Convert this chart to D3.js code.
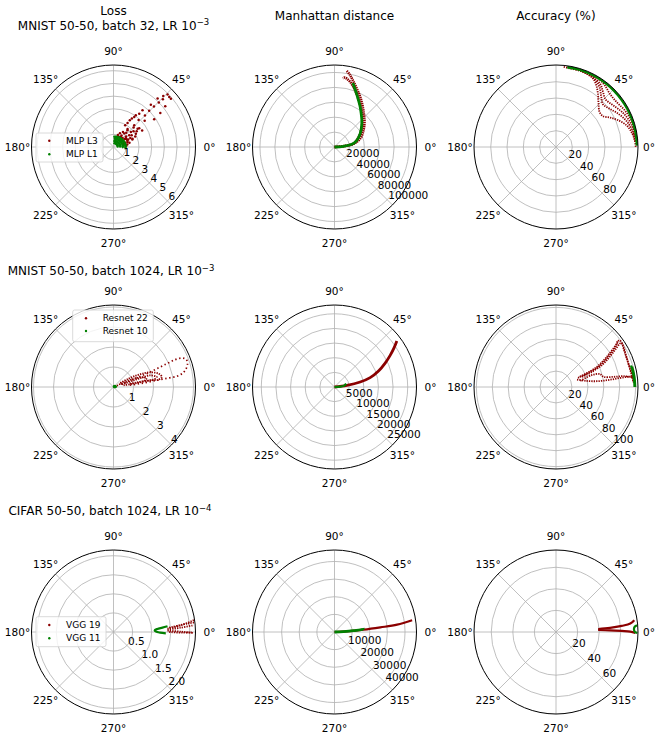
<!DOCTYPE html>
<html>
<head>
<meta charset="utf-8">
<script src="https://cdn.jsdelivr.net/npm/d3@7"></script>
<style>
  body { margin: 0; background: #fff; }
  svg text { font-family: "DejaVu Sans", sans-serif; fill: #000; }
</style>
</head>
<body>
<svg id="chart" width="656" height="737"></svg>
<script>
// ---- Angular / radial ticks ---------------------------------------------
const angleTicks = [0, 45, 90, 135, 180, 225, 270, 315];

const lossTicksB32 = [1, 2, 3, 4, 5, 6];
const distTicksB32 = [20000, 40000, 60000, 80000, 100000];
const accTicksB32 = [20, 40, 60, 80];
const lossTicksB1024 = [1, 2, 3, 4];
const distTicksB1024 = [5000, 10000, 15000, 20000, 25000];
const accTicksB1024 = [20, 40, 60, 80, 100];
const lossTicksCifar = [0.5, 1.0, 1.5, 2.0];
const distTicksCifar = [10000, 20000, 30000, 40000];
const accTicksCifar = [20, 40, 60];

// ---- Trajectories: each series is a list of runs of [angle in degrees, value]
// MNIST 50-50, batch 32, LR 1e-3
const b32LossL3 = [[
  [44.1,5.92],[41.9,5.89],[40.1,5.90],[45.7,5.60],[47.7,5.15],[38.2,5.18],[36.0,4.55],[34.2,3.87],
  [48.6,4.44],[51.7,3.68],[52.3,3.31],[54.9,3.05],[55.4,2.87],[57.1,2.66],[58.6,2.46],[59.7,2.19],
  [61.7,1.94],[46.3,2.36],[37.3,2.38],[40.9,1.81],[30.8,2.05],[50.0,1.71],[51.2,1.35],[53.9,0.98],
  [49.6,0.69],[42.7,0.96],[39.1,1.25],[36.7,1.54],[23.6,1.63],[19.7,1.17],[19.0,0.81],[45.0,3.50],
  [45.5,4.00],[45.0,4.50],[44.5,5.00],[44.0,5.40],[30,0.90],[35,1.10],[25,1.20],[40,1.30],[45,1.00],
  [55,1.10],[60,0.90],[20,1.00],[28,1.50],[33,1.70],[48,1.50],[15,1.30],[38,2.00],[44,2.20],[52,1.80],
  [65,1.20],[70,1.00],[42,0.80],[22,1.60],[18,0.90],[10,1.10],[36,2.50],[30,2.60],[47,2.90],[40,3.20],
  [34,2.20],[26,1.90],[12,0.80],[5,1.00],[27,1.30],[58,1.40],[32,1.20]
]];
const b32LossL1 = [
  [[-4,0.93],[6,0.95],[16,0.94],[26,0.92],[36,0.90],[46,0.88],[56,0.86],[66,0.84],[76,0.82],[86,0.80]],
  [[-2,0.72],[10,0.74],[22,0.73],[34,0.71],[46,0.70],[58,0.68],[70,0.66],[82,0.64]],
  [[2,0.52],[16,0.54],[30,0.53],[44,0.51],[58,0.50],[72,0.48],[84,0.47]],
  [[5,0.33],[25,0.34],[45,0.33],[65,0.32],[80,0.30]]
];
const b32DistL3 = [
  [[0,0],[5.4,14360],[11.0,28250],[19.5,37480],[29.9,44870],[39.8,52400],[48.7,59570],[56.1,67350],
   [62.8,75400],[69.1,83800],[74.6,92750],[78.3,99550],[80.8,103300]],
  [[0,0],[10.0,25880],[25.0,37020],[40.1,48560],[52.3,59300],[62.5,70610],[70.5,81610],[76.4,89710],
   [79.8,93150],[81.8,94000],[83.1,92800]]
];
const b32DistL1 = [
  [[0,0],[4.2,12100],[8.7,23520],[16.6,31260],[27.5,38800],[36.5,45080],[44.3,51250],[51.3,57280],
   [57.3,63770],[62.8,70390],[67.6,77410],[71.4,83990],[74.0,89300]]
];
const b32AccL3 = [
  [[84.5,98.6],[80.3,97.9],[70.4,98.0],[61.8,95.5],[57.0,90.5],[52.0,83.4],[45.7,74.6],[38.9,68.6],
   [33.3,68.8],[28.8,75.0],[23.4,82.8],[17.2,90.3],[11.3,94.2],[4.9,96.8],[0,97.7]],
  [[79.2,98.7],[66.5,97.6],[59.5,95.3],[53.9,90.5],[48.0,82.9],[42.4,77.9],[35.5,80.7],[28.4,86.3],
   [20.4,92.0],[11.9,95.7],[3.6,97.5]],
  [[75.6,98.8],[62.4,97.3],[54.9,94.3],[49.7,88.9],[43.8,84.2],[36.3,86.6],[27.0,92.2],[16.8,96.5],[7.2,97.7]],
  [[70.7,99.2],[58.6,98.6],[51.9,96.5],[45.0,92.9],[36.9,92.4],[28.2,95.5],[19.6,98.0],[9.6,98.7]]
];
const b32AccL1 = [
  [[82,99.0],[75,99.1],[68,99.1],[60,99.2],[52,99.2],[44,99.2],[36,99.2],[28,99.3],[20,99.3],[12,99.3],[6,99.3],[1,99.3]]
];

// MNIST 50-50, batch 1024, LR 1e-3
const b1024LossR22 = [
  [[21.8,0.18],[20.6,0.71],[21.8,1.26],[21.8,1.80],[22.9,2.35],[23.6,2.91],[23.9,3.37],[23.0,3.71],
   [20.8,3.89],[17.5,3.88],[14.2,3.75],[11.4,3.54],[9.6,3.21],[9.3,2.79],[8.9,2.36],[8.4,1.94],
   [7.6,1.51],[7.0,1.09],[5.7,0.67]],
  [[31,0.39],[29.1,0.86],[26.6,1.30],[23.9,1.73],[20.9,2.05],[16.5,2.35],[11.7,2.47],[9.3,2.28],
   [10.3,1.86],[10.0,1.44],[9.5,1.01],[9.5,0.51]],
  [[17.7,0.44],[18.1,0.96],[18.2,1.49],[17.7,1.92],[13.0,2.22],[10.4,2.03],[11.3,1.53]],
  [[25,0.30],[24,0.70],[22,1.10],[19,1.50],[15,1.70],[12,1.60],[11,1.20],[12,0.80]]
];
const b1024LossR10 = [
  [[10,0.05],[25,0.07],[5,0.08],[40,0.06],[15,0.10]]
];
const b1024DistR22 = [
  [[0,0],[7.7,4250],[11.0,8930],[14.7,12590],[20.0,15990],[25.3,19140],[29.6,21860],[33.4,24400],[36.4,26450]]
];
const b1024DistR10 = [
  [[0,0],[3.4,1940],[7.9,3330],[15.9,4140]]
];
const b1024AccR22 = [
  [[22.6,30.0],[24.0,41.9],[25.6,54.3],[29.1,68.2],[32.5,80.8],[35.1,92.6],[36.4,99.0],[31.6,99.0],
   [24.8,96.5],[16.8,95.6],[8.8,96.9],[2.5,98.0]],
  [[23.2,32.4],[24.2,46.7],[24.8,60.9],[28.7,75.2],[32.2,88.0],[34.1,98.7],[27.5,96.9],[19.5,95.7],
   [10.2,96.0],[3.8,97.2]],
  [[19.5,28.0],[11.3,39.1],[8.1,51.6],[7.6,64.4],[7.9,77.3],[8.1,90.3],[7.9,98.8]],
  [[14.0,31.6],[18.4,47.1],[16.3,57.6],[12.1,60.9],[10.0,73.5],[9.1,86.2],[6.9,98.6]],
  [[21,35],[23,50],[27,65],[31,79],[34,90],[37,97]]
];
const b1024AccR10 = [
  [[0,98.6],[4,98.5],[8,98.3],[12,98.2],[16,98.0]],
  [[0,99.5],[5,99.4],[10,99.2],[15,99.0]]
];

// CIFAR 50-50, batch 1024, LR 1e-4
const cifarLossV19 = [
  [[3.6,1.418],[5.7,1.778],[8.4,2.129]],
  [[2.5,1.417],[3.7,1.773],[4.8,2.113]],
  [[1.4,1.416],[0.3,1.770],[-0.7,2.080]],
  [[4.5,1.464],[6.5,1.959],[6.7,2.138]],
  [[0,1.460],[-0.6,1.814],[-0.2,2.053]]
];
const cifarLossV11 = [
  [[6.1,1.424],[5.1,1.288],[4.0,1.153],[2.3,1.080],[0.5,1.115],[-0.8,1.221],[-1.5,1.372]]
];
const cifarDistV19 = [
  [[0,0],[3.1,7040],[4.6,16570],[5.8,26140],[6.7,35740],[8.6,44530]]
];
const cifarDistV11 = [
  [[0,0],[2.1,5130],[4.0,10840],[6.0,16230],[8.0,16400]]
];
const cifarAccV19 = [
  [[4.1,39.2],[4.3,50.2],[5.3,61.2],[6.5,69.3],[8.6,73.4]],
  [[2.7,39.1],[1.8,50.1],[0.9,61.0],[0.3,68.8],[-0.7,73.5]]
];
const cifarAccV11 = [
  [[4.8,75.3],[3.7,73.0],[1.7,72.3],[0,73.2],[-0.7,75.4]]
];

// ---- Layout and styles ---------------------------------------------------
const RED = "#8b0000", GREEN = "#008000";
const colX = [113.5, 334.5, 556];
const rowY = [147, 387, 632];
const R = 82;

const trailStyles = {
  scatter: { width: 0,   dash: null,      dot: 1.25 },
  blob:    { width: 2.6, dash: null,      dot: 1.1 },
  solid:   { width: 2.8, dash: null,      dot: 0 },
  thin:    { width: 2.2, dash: null,      dot: 0 },
  hatched: { width: 2.6, dash: "1.4,0.7", dot: 0 },
  dotted:  { width: 1.8, dash: "1.3,1.1", dot: 0 },
  sparse:  { width: 1.7, dash: "1.4,2.6", dot: 0 },
  speck:   { width: 0,   dash: null,      dot: 1.5 }
};

const fmtInt = d3.format("d");
const fmtOne = d3.format(".1f");

const panels = [
  { row: 0, col: 0, rmax: 6.45, ticks: lossTicksB32, fmt: fmtInt,
    series: [{ data: b32LossL3, color: RED, style: ["scatter"] },
             { data: b32LossL1, color: GREEN, style: ["blob"] }],
    legend: { x: 36, y: 133, w: 67, h: 29, mx: 49.3, tx: 66, rows: [["MLP L3", RED, 140.7], ["MLP L1", GREEN, 154.3]] } },
  { row: 0, col: 1, rmax: 110000, ticks: distTicksB32, fmt: fmtInt,
    series: [{ data: b32DistL3, color: RED, style: ["hatched"] },
             { data: b32DistL1, color: GREEN, style: ["solid"] }] },
  { row: 0, col: 2, rmax: 100.5, ticks: accTicksB32, fmt: fmtInt,
    series: [{ data: b32AccL3, color: RED, style: ["dotted"] },
             { data: b32AccL1, color: GREEN, style: ["solid"] }] },
  { row: 1, col: 0, rmax: 4.1, ticks: lossTicksB1024, fmt: fmtInt,
    series: [{ data: b1024LossR22, color: RED, style: ["sparse", "dotted", "dotted", "dotted"] },
             { data: b1024LossR10, color: GREEN, style: ["speck"] }],
    legend: { x: 72.7, y: 310, w: 80.6, h: 31.7, mx: 86, tx: 102.7, rows: [["Resnet 22", RED, 318.3], ["Resnet 10", GREEN, 331]] } },
  { row: 1, col: 1, rmax: 28000, ticks: distTicksB1024, fmt: fmtInt,
    series: [{ data: b1024DistR22, color: RED, style: ["solid"] },
             { data: b1024DistR10, color: GREEN, style: ["thin"] }] },
  { row: 1, col: 2, rmax: 103, ticks: accTicksB1024, fmt: fmtInt,
    series: [{ data: b1024AccR22, color: RED, style: ["dotted"] },
             { data: b1024AccR10, color: GREEN, style: ["thin"] }] },
  { row: 2, col: 0, rmax: 2.15, ticks: lossTicksCifar, fmt: fmtOne,
    series: [{ data: cifarLossV19, color: RED, style: ["dotted"] },
             { data: cifarLossV11, color: GREEN, style: ["thin"] }],
    legend: { x: 36, y: 616.7, w: 70, h: 30, mx: 49.3, tx: 66, rows: [["VGG 19", RED, 625], ["VGG 11", GREEN, 638.3]] } },
  { row: 2, col: 1, rmax: 46500, ticks: distTicksCifar, fmt: fmtInt,
    series: [{ data: cifarDistV19, color: RED, style: ["thin"] },
             { data: cifarDistV11, color: GREEN, style: ["solid"] }] },
  { row: 2, col: 2, rmax: 76, ticks: accTicksCifar, fmt: fmtInt,
    series: [{ data: cifarAccV19, color: RED, style: ["thin"] },
             { data: cifarAccV11, color: GREEN, style: ["thin"] }] }
];

// ---- Drawing -------------------------------------------------------------
const svg = d3.select("#chart");
const rad = d => d * Math.PI / 180;
const W = +svg.attr("width");

panels.forEach((p, i) => {
  const cx = colX[p.col], cy = rowY[p.row];
  const g = svg.append("g").attr("transform", `translate(${cx},${cy})`);
  const r = d3.scaleLinear().domain([0, p.rmax]).range([0, R]);

  // grid: rings and spokes
  g.selectAll("circle.ring").data(p.ticks).join("circle")
    .attr("class", "ring").attr("r", d => r(d))
    .attr("fill", "none").attr("stroke", "#b0b0b0").attr("stroke-width", 0.8);
  g.selectAll("line.spoke").data(angleTicks).join("line")
    .attr("class", "spoke")
    .attr("x1", 0).attr("y1", 0)
    .attr("x2", d => R * Math.cos(rad(d))).attr("y2", d => -R * Math.sin(rad(d)))
    .attr("stroke", "#b0b0b0").attr("stroke-width", 0.8);

  // clip data to the polar disc
  const clipId = "clip" + i;
  g.append("clipPath").attr("id", clipId).append("circle").attr("r", R);
  const dg = g.append("g").attr("clip-path", `url(#${clipId})`);

  const line = d3.lineRadial()
    .angle(d => Math.PI / 2 - rad(d[0]))
    .radius(d => r(d[1]))
    .curve(d3.curveCatmullRom.alpha(0.5));

  p.series.forEach(s => {
    s.data.forEach((run, k) => {
      const st = trailStyles[s.style[Math.min(k, s.style.length - 1)]];
      if (st.width > 0) {
        dg.append("path").attr("d", line(run))
          .attr("fill", "none").attr("stroke", s.color)
          .attr("stroke-width", st.width)
          .attr("stroke-dasharray", st.dash)
          .attr("stroke-linecap", "butt");
      }
      if (st.dot > 0) {
        dg.append("g").selectAll("circle").data(run).join("circle")
          .attr("cx", d => r(d[1]) * Math.cos(rad(d[0])))
          .attr("cy", d => -r(d[1]) * Math.sin(rad(d[0])))
          .attr("r", st.dot).attr("fill", s.color);
      }
    });
  });

  // outer frame
  g.append("circle").attr("r", R).attr("fill", "none")
    .attr("stroke", "#000").attr("stroke-width", 1);

  // angle labels (kept inside the page on the right edge)
  g.selectAll("text.ang").data(angleTicks).join("text")
    .attr("class", "ang")
    .attr("x", d => {
      const x = 96 * Math.cos(rad(d));
      return d === 0 ? Math.min(x, W - cx - 7) : x;
    })
    .attr("y", d => -96 * Math.sin(rad(d)))
    .attr("text-anchor", "middle").attr("dominant-baseline", "central")
    .attr("font-size", "10.5px")
    .text(d => d + "°");

  // radial labels along the 315° direction
  g.selectAll("text.rlab").data(p.ticks).join("text")
    .attr("class", "rlab")
    .attr("x", d => r(d) * Math.cos(rad(-45)) + 1)
    .attr("y", d => -r(d) * Math.sin(rad(-45)) - 0.5)
    .attr("font-size", "10.5px")
    .text(d => p.fmt(d));

  // legend
  if (p.legend) {
    const L = p.legend;
    svg.append("rect").attr("x", L.x).attr("y", L.y).attr("width", L.w).attr("height", L.h)
      .attr("rx", 2).attr("fill", "#fff").attr("fill-opacity", 0.8)
      .attr("stroke", "#d0d0d0").attr("stroke-width", 0.8);
    L.rows.forEach(([label, color, y]) => {
      svg.append("circle").attr("cx", L.mx).attr("cy", y).attr("r", 1.2).attr("fill", color);
      svg.append("text").attr("x", L.tx).attr("y", y).attr("dominant-baseline", "central")
        .attr("font-size", "9px").text(label);
    });
  }
});

// ---- Titles --------------------------------------------------------------
function titleWithPower(x, y, base, power) {
  const t = svg.append("text").attr("x", x).attr("y", y)
    .attr("text-anchor", "middle").attr("font-size", "12px");
  t.append("tspan").text(base);
  t.append("tspan").attr("dy", -4.5).attr("font-size", "8.5px").text(power);
}
svg.append("text").attr("x", colX[0]).attr("y", 15).attr("text-anchor", "middle")
  .attr("font-size", "12px").text("Loss");
titleWithPower(colX[0], 29.5, "MNIST 50-50, batch 32, LR 10", "−3");
svg.append("text").attr("x", colX[1]).attr("y", 20).attr("text-anchor", "middle")
  .attr("font-size", "12px").text("Manhattan distance");
svg.append("text").attr("x", colX[2]).attr("y", 20).attr("text-anchor", "middle")
  .attr("font-size", "12px").text("Accuracy (%)");
titleWithPower(111, 275, "MNIST 50-50, batch 1024, LR 10", "−3");
titleWithPower(110, 515, "CIFAR 50-50, batch 1024, LR 10", "−4");
</script>
</body>
</html>
